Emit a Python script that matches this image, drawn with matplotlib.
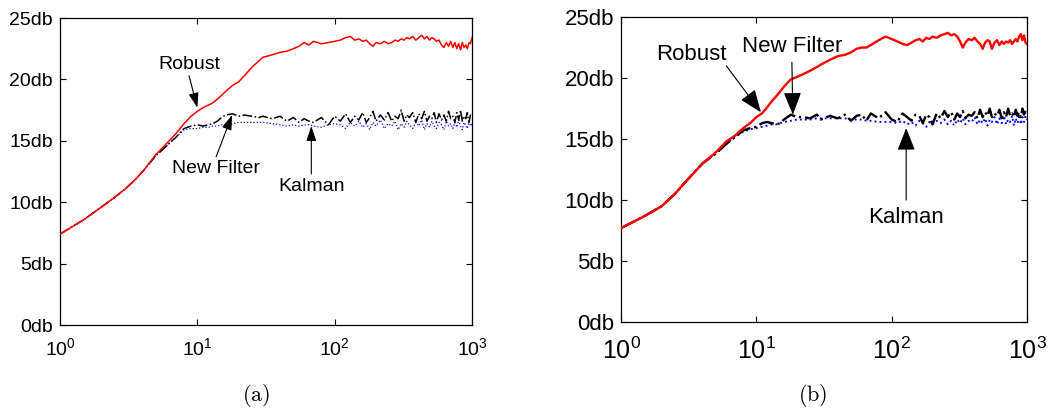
import numpy as np
import matplotlib
matplotlib.use("Agg")
import matplotlib.pyplot as plt
from matplotlib.ticker import FixedLocator, NullLocator

# ----------------------------------------------------------------------
# data (iteration index vs. output SNR in db)
# ----------------------------------------------------------------------
x_head = [1, 1.5, 2, 2.5, 3, 3.5, 4, 5, 6, 7, 8, 9, 10, 11, 12, 13, 14, 15,
          16, 18, 20, 22, 25, 28, 30, 35, 40, 45, 50, 55, 60, 65, 70, 80,
          90, 100]
x_tail = [110, 120, 130, 140, 150, 160, 170, 180, 190, 200, 215, 230, 245,
          260, 275, 290, 305, 320, 335, 350, 370, 390, 410, 430, 450, 470,
          490, 510, 530, 550, 575, 600, 625, 650, 675, 700, 725, 750, 775,
          800, 825, 850, 875, 900, 925, 950, 975, 1000]
iters = x_head + x_tail

# panel (a)
robust_a = [7.4, 8.6, 9.6, 10.4, 11.1, 11.8, 12.5, 13.9, 14.8, 15.6, 16.4,
            17.0, 17.4, 17.7, 17.9, 18.1, 18.4, 18.7, 19.0, 19.5, 19.8,
            20.3, 21.0, 21.5, 21.8, 22.0, 22.2, 22.3, 22.5, 22.7, 23.0,
            22.8, 23.1, 22.9, 23.0, 23.1,
            23.2, 23.4, 23.5, 23.2, 23.3, 23.1, 23.2, 22.9, 22.7, 23.0,
            22.9, 23.1, 22.9, 23.0, 23.2, 23.1, 23.3, 23.2, 23.4, 23.3,
            23.5, 23.2, 23.4, 23.6, 23.3, 23.5, 23.2, 23.4, 23.3, 23.1,
            23.2, 22.8, 22.6, 23.0, 22.7, 23.1, 22.6, 23.0, 22.5, 22.9,
            22.4, 23.0, 22.6, 22.8, 22.5, 23.0, 22.9, 23.4]
newf_a = [7.4, 8.6, 9.6, 10.4, 11.1, 11.8, 12.5, 13.8, 14.6, 15.3, 16.0,
          16.2, 16.3, 16.2, 16.3, 16.4, 16.6, 16.9, 17.1, 17.2, 17.0, 17.1,
          17.0, 16.9, 17.0, 16.8, 17.0, 16.6, 16.9, 16.5, 16.8, 16.6, 16.5,
          16.9, 16.3, 17.0,
          16.6, 17.2, 16.5, 17.0, 16.7, 17.3, 16.5, 16.9, 17.4, 16.6, 17.1,
          16.7, 17.3, 16.6, 17.0, 16.8, 17.5, 16.6, 17.1, 16.9, 17.3, 16.5,
          17.2, 16.8, 17.4, 16.6, 17.0, 16.8, 17.3, 16.5, 17.2, 16.7, 17.1,
          16.6, 17.4, 16.8, 17.0, 16.5, 17.3, 16.7, 17.5, 16.6, 17.0, 16.8,
          17.3, 16.5, 17.1, 17.0]
kalman_a = [7.4, 8.6, 9.6, 10.4, 11.1, 11.8, 12.5, 13.8, 14.6, 15.3, 15.9,
            16.0, 16.0, 16.1, 16.1, 16.2, 16.2, 16.3, 16.3, 16.4, 16.5, 16.5,
            16.5, 16.5, 16.5, 16.4, 16.3, 16.2, 16.3, 16.2, 16.3, 16.3, 16.2,
            16.1, 16.3, 16.4,
            16.3, 16.0, 16.5, 16.2, 16.6, 16.1, 16.4, 15.9, 16.5, 16.2, 16.7,
            16.0, 16.4, 16.2, 16.6, 15.9, 16.4, 16.1, 16.6, 16.3, 16.0, 16.5,
            16.2, 16.7, 15.9, 16.4, 16.1, 16.6, 16.2, 16.0, 16.5, 16.3, 15.9,
            16.6, 16.2, 16.4, 16.0, 16.5, 16.1, 16.7, 16.2, 15.9, 16.5, 16.3,
            16.0, 16.6, 16.2, 16.4]

# panel (b)
robust_b = [7.7, 8.7, 9.5, 10.5, 11.5, 12.3, 13.0, 13.9, 14.8, 15.3, 15.9,
            16.3, 16.8, 17.1, 17.6, 18.1, 18.5, 18.9, 19.3, 19.9, 20.1, 20.3,
            20.6, 20.9, 21.1, 21.5, 21.8, 21.9, 22.1, 22.4, 22.5, 22.5, 22.7,
            23.1, 23.4, 23.2,
            23.0, 22.8, 22.7, 22.9, 23.1, 23.2, 23.0, 23.3, 23.2, 23.4, 23.3,
            23.5, 23.6, 23.7, 23.5, 23.6, 23.4, 23.0, 22.5, 22.9, 23.2, 23.1,
            23.3, 23.0, 22.8, 22.4, 22.9, 23.1, 23.0, 22.4, 22.9, 23.1, 22.7,
            23.0, 22.8, 23.0, 22.9, 23.1, 22.8, 23.0, 23.2, 23.0, 23.4, 23.6,
            23.1, 23.5, 22.9, 22.8]
newf_b = [7.7, 8.7, 9.5, 10.5, 11.5, 12.3, 13.0, 13.8, 14.6, 15.2, 15.7,
          15.9, 16.0, 16.3, 16.4, 16.3, 16.2, 16.3, 16.6, 17.0, 16.8, 16.8,
          16.7, 17.0, 16.6, 16.9, 16.7, 17.0, 16.5, 16.9, 17.0, 16.5, 17.1,
          16.7, 17.2, 16.6,
          16.4, 17.1, 16.8, 16.5, 17.0, 16.9, 16.3, 17.0, 16.8, 16.2, 17.1,
          16.7, 17.3, 16.8, 17.2, 16.6, 17.1, 16.8, 17.3, 16.7, 17.0, 16.9,
          17.2, 16.7, 17.4, 16.8, 17.2, 16.9, 17.5, 16.8, 17.1, 16.9, 17.4,
          16.7, 17.2, 16.8, 17.5, 16.9, 17.1, 16.8, 17.4, 16.9, 17.2, 16.8,
          17.5, 17.0, 17.3, 17.6]
kalman_b = [7.7, 8.7, 9.5, 10.5, 11.5, 12.3, 13.0, 13.8, 14.6, 15.2, 15.6,
            15.8, 15.9, 16.0, 16.1, 16.2, 16.2, 16.3, 16.4, 16.5, 16.6, 16.6,
            16.6, 16.7, 16.7, 16.7, 16.7, 16.7, 16.6, 16.6, 16.6, 16.5, 16.5,
            16.4, 16.4, 16.4,
            16.3, 16.5, 16.2, 16.4, 16.1, 16.5, 16.3, 16.0, 16.4, 16.2, 16.5,
            16.3, 16.6, 16.2, 16.5, 16.1, 16.6, 16.3, 16.7, 16.2, 16.5, 16.4,
            16.8, 16.2, 16.6, 16.3, 16.7, 16.1, 16.6, 16.4, 16.8, 16.2, 16.7,
            16.3, 16.9, 16.2, 16.6, 16.4, 16.9, 16.1, 16.7, 16.3, 17.0, 16.2,
            16.8, 16.4, 16.9, 16.6]

y_ticks = [0, 5, 10, 15, 20, 25]
y_labels = ["%ddb" % v for v in y_ticks]
x_ticks = [1, 10, 100, 1000]

# (label, text pos, arrow tail, arrow head) in data coords
notes_a = [("Robust", (8.7, 21.2), (8.7, 20.3), (10.0, 17.7)),
           ("New Filter", (13.6, 12.75), (13.7, 13.7), (17.9, 17.1)),
           ("Kalman", (67.6, 11.25), (67.6, 12.3), (67.6, 16.2))]
notes_b = [("Robust", (3.33, 21.9), (6.0, 21.0), (10.8, 17.2)),
           ("New Filter", (18.3, 22.6), (18.3, 21.3), (18.6, 17.0)),
           ("Kalman", (128, 8.6), (128, 10.0), (128, 15.9))]

plt.rcParams["font.family"] = ["Liberation Sans", "DejaVu Sans"]


def panel(ax, red, black, blue, notes, tsize, xsize, ysize, xpad, lw, head):
    ax.plot(iters, red, color="red", lw=lw, zorder=3)
    ax.plot(iters, black, color="black", ls="-.", lw=lw, zorder=2)
    ax.plot(iters, blue, color="blue", ls=":", lw=lw * 0.8, zorder=1)
    ax.set_xscale("log")
    ax.set_xlim(1, 1000)
    ax.set_ylim(0, 25)
    ax.xaxis.set_major_locator(FixedLocator(x_ticks))
    ax.xaxis.set_minor_locator(NullLocator())
    ax.set_xticklabels([r"$\mathdefault{10^{%d}}$" % i for i in range(4)],
                       fontsize=xsize)
    ax.set_yticks(y_ticks)
    ax.set_yticklabels(y_labels, fontsize=ysize)
    ax.tick_params(direction="in", top=True, right=True, length=4,
                   width=0.8, pad=5)
    ax.tick_params(axis="x", pad=xpad)
    for s in ax.spines.values():
        s.set_linewidth(0.9)
    for name, tpos, tail, tip in notes:
        ax.text(tpos[0], tpos[1], name, ha="center", va="center",
                fontsize=tsize)
        ax.annotate("", xy=tip, xytext=tail,
                    arrowprops=dict(arrowstyle="-|>,head_length=%.2f,head_width=%.2f" % head,
                                    color="black", lw=0.8,
                                    shrinkA=0, shrinkB=0))


fig = plt.figure(figsize=(10.51, 4.11), dpi=100)
ax_a = fig.add_axes([0.0571, 0.2092, 0.392, 0.747])
ax_b = fig.add_axes([0.5909, 0.2165, 0.3863, 0.742])

panel(ax_a, robust_a, newf_a, kalman_a, notes_a, 14, 14, 14, 9,
      1.1, (0.9, 0.3))
panel(ax_b, robust_b, newf_b, kalman_b, notes_b, 16, 18, 16, 11,
      1.7, (1.4, 0.55))

fig.text(256 / 1051, 1 - 395 / 411, r"$\mathrm{(a)}$", ha="center",
         va="center", fontsize=16, math_fontfamily="cm")
fig.text(813 / 1051, 1 - 395 / 411, r"$\mathrm{(b)}$", ha="center",
         va="center", fontsize=16, math_fontfamily="cm")

fig.savefig("out.png", dpi=100)
